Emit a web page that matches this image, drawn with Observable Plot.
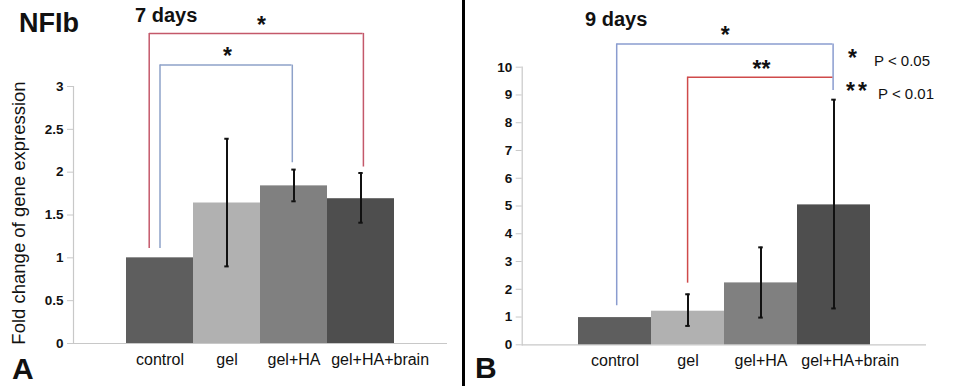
<!DOCTYPE html>
<html><head><meta charset="utf-8">
<script src="https://cdn.jsdelivr.net/npm/d3@7"></script>
<script src="https://cdn.jsdelivr.net/npm/@observablehq/plot@0.6"></script>
<style>
body{margin:0;background:#fff;font-family:"Liberation Sans",Arial,sans-serif}
#wrap{position:relative;width:957px;height:386px;overflow:hidden;background:#fff}
.abs{position:absolute;white-space:nowrap;line-height:1;color:#111}
.panel{position:absolute;top:0}
</style></head><body><div id="wrap"></div>
<script>
// ---- data ----
const categories = ["control", "gel", "gel+HA", "gel+HA+brain"];
const barColors = ["#5e5e5e", "#b1b1b1", "#808080", "#4e4e4e"];

const valuesA = [1.0, 1.64, 1.84, 1.69];
const errLowA = [null, 0.90, 1.66, 1.41];
const errHighA = [null, 2.39, 2.03, 1.99];
const ticksA = [0, 0.5, 1, 1.5, 2, 2.5, 3];

const valuesB = [0.98, 1.21, 2.23, 5.04];
const errLowB = [null, 0.68, 0.98, 1.31];
const errHighB = [null, 1.82, 3.51, 8.83];
const ticksB = [0, 1, 2, 3, 4, 5, 6, 7, 8, 9, 10];

// significance brackets: from, to, top, left-leg bottom, right-leg bottom, label
const bracketsA = [
  {from: "control", to: "gel+HA+brain", top: 3.62, leftLow: 1.11, rightLow: 2.06, label: "*"},
  {from: "control", to: "gel+HA", top: 3.25, leftLow: 1.11, rightLow: 2.11, label: "*"}
];
const bracketsB = [
  {from: "control", to: "gel+HA+brain", top: 10.84, leftLow: 1.41, rightLow: 9.16, label: "*"},
  {from: "gel", to: "gel+HA+brain", top: 9.64, leftLow: 2.22, rightLow: null, label: "**"}
];
// styles for brackets (colour, leg offsets)
const bracketStyleA = [
  {stroke: "#c4586a", dl: -10.8, dr: 2.4},
  {stroke: "#8ea2c9", dl: 0, dr: -1.7}
];
const bracketStyleB = [
  {stroke: "#8a9ccf", dl: 1.7, dr: -0.9},
  {stroke: "#cf4a4a", dl: -0.4, dr: -0.9}
];

function rows(values, lo, hi) {
  return categories.map((c, i) => ({cat: c, v: values[i], lo: lo[i], hi: hi[i]}));
}

function panel(o) {
  const data = rows(o.values, o.lo, o.hi);
  const err = data.filter(d => d.lo != null);
  const bw = (o.xRange[1] - o.xRange[0]) / categories.length;
  const idx = c => categories.indexOf(c);
  const last = categories.length - 1;
  const marks = [
    Plot.ruleY([0], {stroke: "#c8c8c8", strokeWidth: 1.2}),
    Plot.frame({anchor: "left", stroke: "#c8c8c8", strokeWidth: 1.2}),
    Plot.axisY({ticks: o.ticks, tickFormat: d => String(d), tickSize: 6, tickPadding: 4,
      fontSize: 13.5, fontWeight: "bold", stroke: "#c8c8c8", fill: "#111"}),
    Plot.barY(data, {x: "cat", y: "v", fill: "cat"}),
    Plot.ruleX(err, {x: "cat", y1: "lo", y2: "hi", stroke: "#111", strokeWidth: 2}),
    Plot.tickY(err, {x: "cat", y: "hi", stroke: "#111", strokeWidth: 2, inset: (bw - 5) / 2}),
    Plot.tickY(err, {x: "cat", y: "lo", stroke: "#111", strokeWidth: 2, inset: (bw - 5) / 2}),
    Plot.text(categories.slice(0, last), {x: d => d, frameAnchor: "bottom", dy: 21, fontSize: 16, fill: "#111"}),
    Plot.text(categories.slice(last), {x: d => d, frameAnchor: "bottom", dy: 21, fontSize: 16, fill: "#111",
      textAnchor: "start", dx: -bw / 2 + 4})
  ];
  o.brackets.forEach((b, i) => {
    const s = o.styles[i];
    marks.push(Plot.ruleX([b], {x: "from", y1: "leftLow", y2: "top", dx: s.dl, stroke: s.stroke, strokeWidth: 1.5}));
    if (b.rightLow != null)
      marks.push(Plot.ruleX([b], {x: "to", y1: "rightLow", y2: "top", dx: s.dr, stroke: s.stroke, strokeWidth: 1.5}));
    marks.push(Plot.ruleY([b], {y: "top", x1: "from", x2: "to", insetLeft: bw / 2 + s.dl, insetRight: bw / 2 - s.dr, stroke: s.stroke, strokeWidth: 1.5}));
    marks.push(Plot.text([b], {x: "from", y: "top", text: "label", dx: (idx(b.to) - idx(b.from)) * bw / 2,
      dy: -8, fontSize: 23, fontWeight: "bold", fill: "#111", lineAnchor: "middle", letterSpacing: b.label.length > 1 ? 3 : 0}));
  });
  return Plot.plot({
    width: o.width, height: 386,
    marginLeft: o.mL, marginRight: o.mR, marginTop: o.mT, marginBottom: o.mB,
    style: {fontFamily: "'Liberation Sans', Arial, sans-serif", background: "transparent", overflow: "visible"},
    x: {type: "band", domain: categories, range: o.xRange, padding: 0, axis: null},
    y: {domain: o.yDomain, axis: null},
    color: {domain: categories, range: barColors},
    marks
  });
}

const wrap = document.getElementById("wrap");
const svgA = panel({width: 462, mL: 73, mR: 15, mT: 86, mB: 43, xRange: [124.7, 395], yDomain: [0, 3],
  ticks: ticksA, values: valuesA, lo: errLowA, hi: errHighA, brackets: bracketsA, styles: bracketStyleA});
svgA.classList.add("panel"); svgA.style.left = "0px";
wrap.appendChild(svgA);
const svgB = panel({width: 491, mL: 55.7, mR: 31, mT: 66.7, mB: 41.7, xRange: [111.3, 405], yDomain: [0, 10],
  ticks: ticksB, values: valuesB, lo: errLowB, hi: errHighB, brackets: bracketsB, styles: bracketStyleB});
svgB.classList.add("panel"); svgB.style.left = "466px";
wrap.appendChild(svgB);

function label(text, css) {
  const d = document.createElement("div");
  d.className = "abs"; d.textContent = text;
  Object.assign(d.style, css);
  wrap.appendChild(d);
}
// divider
const div = document.createElement("div");
Object.assign(div.style, {position: "absolute", left: "462px", top: "0px", width: "3px", height: "386px", background: "#000"});
wrap.appendChild(div);

label("NFIb", {left: "19px", top: "10px", fontSize: "27px", fontWeight: "bold"});
label("7 days", {left: "135px", top: "5px", fontSize: "20px", fontWeight: "bold"});
label("9 days", {left: "585px", top: "9px", fontSize: "20px", fontWeight: "bold"});
label("A", {left: "12px", top: "354px", fontSize: "30px", fontWeight: "bold"});
label("B", {left: "475px", top: "353px", fontSize: "30px", fontWeight: "bold"});
label("Fold change of gene expression", {left: "19px", top: "213px", fontSize: "18.5px",
  transform: "translate(-50%,-50%) rotate(-90deg)"});
label("*", {left: "848px", top: "47px", fontSize: "23px", fontWeight: "bold"});
label("P < 0.05", {left: "874px", top: "53px", fontSize: "15px"});
label("**", {left: "846px", top: "80px", fontSize: "23px", fontWeight: "bold", letterSpacing: "3px"});
label("P < 0.01", {left: "878px", top: "86px", fontSize: "15px"});
</script></body></html>
